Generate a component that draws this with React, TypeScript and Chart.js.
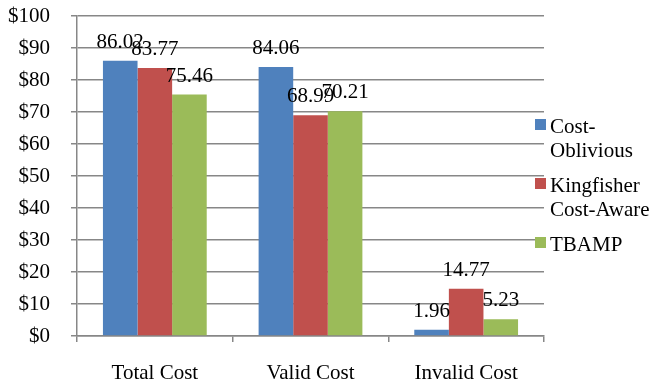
import React, { useEffect, useRef } from "react";
import { Chart, registerables } from "chart.js";

Chart.register(...registerables);

const categories = ["Total Cost", "Valid Cost", "Invalid Cost"];
const costOblivious = [86.02, 84.06, 1.96];
const kingfisherCostAware = [83.77, 68.99, 14.77];
const tbamp = [75.46, 70.21, 5.23];

const seriesNames = [["Cost-", "Oblivious"], ["Kingfisher", "Cost-Aware"], ["TBAMP"]];
const seriesColors = ["#4F81BD", "#C0504D", "#9BBB59"];

const yTicks = [0, 10, 20, 30, 40, 50, 60, 70, 80, 90, 100];

const FONT = "'Liberation Serif', 'Times New Roman', serif";
const GRID = "#878787";
const LINE_W = 1.5;

// Writes each bar's value above it.
const valueLabels = {
  id: "valueLabels",
  afterDatasetsDraw(chart: any) {
    const ctx = chart.ctx;
    ctx.save();
    ctx.font = `21px ${FONT}`;
    ctx.fillStyle = "#000";
    ctx.textAlign = "center";
    ctx.textBaseline = "alphabetic";
    chart.data.datasets.forEach((ds: any, i: number) => {
      const meta = chart.getDatasetMeta(i);
      meta.data.forEach((bar: any, j: number) => {
        const v = ds.data[j];
        ctx.fillText(v.toFixed(2), bar.x, bar.y - 13);
      });
    });
    ctx.restore();
  },
};

// Legend on the right, with wrapped series names.
const sideLegend = {
  id: "sideLegend",
  afterDraw(chart: any) {
    const ctx = chart.ctx;
    const area = chart.chartArea;
    ctx.save();
    ctx.font = `21px ${FONT}`;
    ctx.textAlign = "left";
    ctx.textBaseline = "alphabetic";
    const lineH = 23.5;
    const entryGap = 12;
    const markerX = area.right - 9;
    const textX = area.right + 6;
    let y = 133;
    seriesNames.forEach((lines, i) => {
      ctx.fillStyle = seriesColors[i];
      ctx.fillRect(markerX, y - 14, 11, 11);
      ctx.fillStyle = "#000";
      lines.forEach((t, k) => {
        ctx.fillText(t, textX, y + k * lineH);
      });
      y += lines.length * lineH + entryGap;
    });
    ctx.restore();
  },
};

export default function App() {
  const ref = useRef<HTMLCanvasElement | null>(null);

  useEffect(() => {
    let chart: Chart | null = null;
    let cancelled = false;
    const build = () => {
      if (cancelled || !ref.current) return;
      chart = new Chart(ref.current, {
        type: "bar",
        data: {
          labels: categories,
          datasets: [
            { label: "Cost-Oblivious", data: costOblivious, backgroundColor: seriesColors[0] },
            { label: "Kingfisher Cost-Aware", data: kingfisherCostAware, backgroundColor: seriesColors[1] },
            { label: "TBAMP", data: tbamp, backgroundColor: seriesColors[2] },
          ],
        },
        options: {
          responsive: false,
          animation: false,
          layout: { padding: { top: 16, right: 110, left: 0, bottom: 0 } },
          datasets: { bar: { categoryPercentage: 3 / 4.5, barPercentage: 1, borderWidth: 0 } },
          plugins: { legend: { display: false }, tooltip: { enabled: false } },
          scales: {
            x: {
              grid: {
                drawOnChartArea: false,
                drawTicks: true,
                tickLength: 6,
                color: GRID,
                lineWidth: LINE_W,
                offset: true,
              },
              border: { display: true, color: GRID, width: LINE_W },
              ticks: { color: "#000", font: { family: FONT, size: 21 }, padding: 19, maxRotation: 0 },
              afterFit: (s: any) => {
                s.height = 49;
                s.paddingLeft = 0;
                s.paddingRight = 0;
              },
            },
            y: {
              min: 0,
              max: 100,
              afterBuildTicks: (s: any) => { s.ticks = yTicks.map((v) => ({ value: v })); },
              grid: { drawOnChartArea: true, drawTicks: true, tickLength: 6, color: GRID, lineWidth: LINE_W },
              border: { display: true, color: GRID, width: LINE_W },
              ticks: {
                color: "#000",
                font: { family: FONT, size: 21 },
                padding: 21,
                callback: (v: any) => "$" + v,
              },
              afterFit: (s: any) => {
                s.width = 77;
                s.paddingTop = 0;
                s.paddingBottom = 0;
              },
            },
          },
        },
        plugins: [valueLabels, sideLegend],
      });
    };
    const fontsApi = (document as any).fonts;
    if (fontsApi && fontsApi.load) {
      Promise.all([
        fontsApi.load(`21px "Liberation Serif"`),
        fontsApi.load(`21px "Times New Roman"`),
      ]).then(build, build);
    } else {
      build();
    }
    return () => {
      cancelled = true;
      if (chart) chart.destroy();
    };
  }, []);

  return (
    <div style={{ position: "absolute", left: 0, top: 0, width: 654, height: 385, background: "#fff" }}>
      <canvas ref={ref} width={654} height={385} />
    </div>
  );
}
